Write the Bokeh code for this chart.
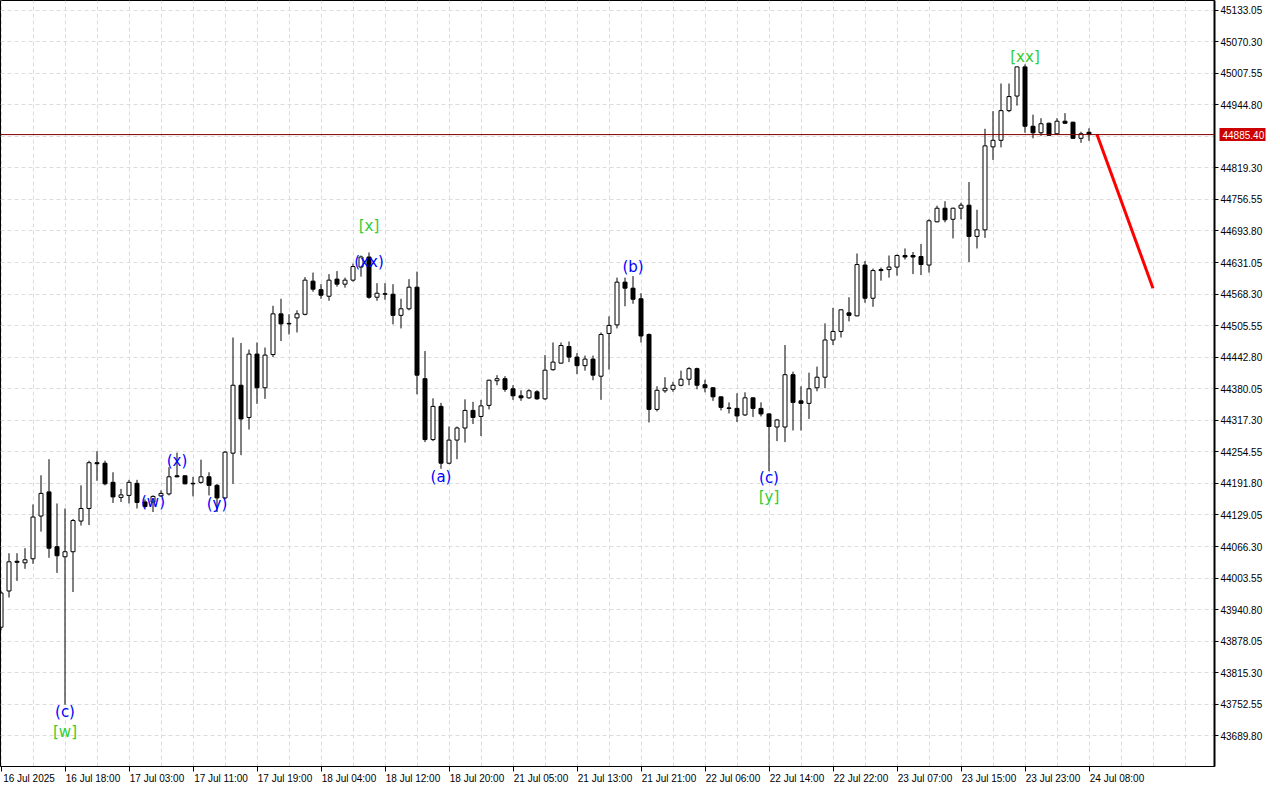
from bokeh.plotting import figure
from bokeh.models import (ColumnDataSource, FixedTicker, Range1d, Span, NumeralTickFormatter,
                          LinearAxis)
from bokeh.embed import file_html
from bokeh.resources import INLINE
from bokeh.core.properties import value

# ---------------- data (hourly candles, index-based x axis) ----------------
opens = [43906, 43978, 44037, 44034, 44042, 44127, 44175, 44066, 44046, 44056,
         44117, 44142, 44233, 44232, 44194, 44164, 44168, 44192, 44155, 44155,
         44167, 44171, 44207, 44207, 44192, 44194, 44205, 44188, 44163, 44252,
         44387, 44323, 44449, 44382, 44448, 44529, 44510, 44521, 44528, 44594,
         44577, 44564, 44598, 44588, 44596, 44622, 44642, 44562, 44569, 44568,
         44526, 44539, 44582, 44400, 44279, 44345, 44232, 44278, 44302, 44337,
         44325, 44347, 44396, 44400, 44380, 44366, 44362, 44374, 44360, 44418,
         44431, 44464, 44443, 44426, 44439, 44405, 44490, 44507, 44592, 44580,
         44559, 44488, 44339, 44376, 44379, 44387, 44399, 44420, 44388, 44382,
         44364, 44342, 44341, 44328, 44362, 44341, 44330, 44304, 44304, 44408,
         44356, 44351, 44382, 44403, 44477, 44494, 44531, 44525, 44626, 44560,
         44617, 44617, 44622, 44645, 44645, 44643, 44626, 44712, 44739, 44717,
         44739, 44745, 44683, 44696, 44861, 44874, 44933, 44962, 45020, 44902,
         44889, 44908, 44887, 44912, 44910, 44878, 44890]
highs = [43978, 44053, 44053, 44063, 44150, 44208, 44240, 44152, 44142, 44121,
         44188, 44237, 44256, 44237, 44214, 44181, 44199, 44199, 44160, 44168,
         44178, 44224, 44253, 44208, 44205, 44239, 44214, 44191, 44256, 44482,
         44471, 44458, 44472, 44462, 44545, 44559, 44528, 44536, 44602, 44611,
         44588, 44608, 44614, 44601, 44629, 44645, 44651, 44590, 44590, 44588,
         44559, 44598, 44613, 44455, 44361, 44352, 44305, 44305, 44359, 44354,
         44358, 44398, 44407, 44405, 44387, 44377, 44379, 44377, 44447, 44472,
         44472, 44474, 44451, 44446, 44446, 44492, 44524, 44601, 44601, 44604,
         44570, 44490, 44385, 44403, 44394, 44416, 44423, 44422, 44398, 44383,
         44365, 44353, 44371, 44373, 44363, 44353, 44331, 44320, 44467, 44414,
         44385, 44412, 44424, 44510, 44541, 44538, 44562, 44649, 44634, 44619,
         44621, 44645, 44647, 44659, 44652, 44668, 44717, 44744, 44753, 44740,
         44750, 44791, 44736, 44897, 44932, 44987, 44987, 45020, 45025, 44925,
         44918, 44909, 44918, 44928, 44911, 44891, 44898]
lows = [43900, 43965, 43998, 44022, 44032, 44096, 44044, 44014, 43752, 43976,
        44108, 44109, 44197, 44188, 44153, 44155, 44152, 44142, 44142, 44135,
        44165, 44168, 44204, 44190, 44166, 44191, 44168, 44135, 44161, 44191,
        44248, 44299, 44350, 44360, 44443, 44475, 44488, 44492, 44526, 44573,
        44559, 44555, 44583, 44581, 44593, 44603, 44559, 44555, 44557, 44508,
        44500, 44536, 44369, 44274, 44276, 44221, 44230, 44240, 44273, 44310,
        44286, 44339, 44387, 44374, 44358, 44356, 44360, 44358, 44358, 44416,
        44430, 44433, 44409, 44416, 44397, 44358, 44418, 44500, 44544, 44549,
        44472, 44313, 44335, 44372, 44374, 44385, 44387, 44379, 44373, 44356,
        44337, 44331, 44314, 44326, 44324, 44325, 44216, 44276, 44274, 44297,
        44297, 44320, 44375, 44381, 44467, 44482, 44514, 44524, 44551, 44543,
        44595, 44601, 44605, 44637, 44608, 44606, 44611, 44711, 44711, 44679,
        44717, 44632, 44659, 44680, 44835, 44860, 44930, 44943, 44889, 44878,
        44883, 44883, 44885, 44907, 44877, 44869, 44873]
closes = [43974, 44036, 44035, 44040, 44125, 44172, 44063, 44048, 44056, 44118,
          44142, 44233, 44231, 44191, 44165, 44169, 44194, 44154, 44146, 44166,
          44172, 44205, 44205, 44191, 44191, 44205, 44188, 44163, 44254, 44387,
          44320, 44449, 44382, 44447, 44529, 44509, 44509, 44529, 44596, 44578,
          44566, 44596, 44588, 44596, 44623, 44642, 44562, 44570, 44568, 44526,
          44539, 44582, 44407, 44279, 44345, 44232, 44278, 44302, 44337, 44323,
          44346, 44397, 44400, 44379, 44366, 44362, 44376, 44360, 44417, 44433,
          44466, 44443, 44426, 44439, 44407, 44488, 44506, 44592, 44580, 44558,
          44485, 44339, 44377, 44381, 44387, 44399, 44420, 44387, 44382, 44364,
          44343, 44341, 44326, 44362, 44341, 44330, 44305, 44318, 44408, 44353,
          44351, 44380, 44403, 44477, 44494, 44537, 44526, 44627, 44560, 44615,
          44615, 44622, 44645, 44642, 44642, 44627, 44714, 44739, 44716, 44739,
          44745, 44683, 44696, 44863, 44874, 44933, 44961, 45020, 44902, 44889,
          44907, 44884, 44912, 44908, 44878, 44887, 44885.4]

last_price = 44885.40
last_price_label = "44885.40"

# x-axis time labels (every 8 bars)
time_label_bars = [0, 8, 16, 24, 32, 40, 48, 56, 64, 72, 80, 88, 96, 104, 112, 120, 128, 136]
time_labels = ["16 Jul 2025", "16 Jul 18:00", "17 Jul 03:00", "17 Jul 11:00", "17 Jul 19:00",
               "18 Jul 04:00", "18 Jul 12:00", "18 Jul 20:00", "21 Jul 05:00", "21 Jul 13:00",
               "21 Jul 21:00", "22 Jul 06:00", "22 Jul 14:00", "22 Jul 22:00", "23 Jul 07:00",
               "23 Jul 15:00", "23 Jul 23:00", "24 Jul 08:00"]

# price-axis ticks
price_ticks = [43689.80, 43752.55, 43815.30, 43878.05, 43940.80, 44003.55, 44066.30, 44129.05,
               44191.80, 44254.55, 44317.30, 44380.05, 44442.80, 44505.55, 44568.30, 44631.05,
               44693.80, 44756.55, 44819.30, 44882.05, 44944.80, 45007.55, 45070.30, 45133.05]

# wave labels
wave_text = ["(c)", "[w]", "(w)", "(x)", "(y)", "[x]", "(xx)", "(a)", "(b)", "(c)", "[y]", "[xx]"]
wave_bar = [8, 8, 19, 22, 27, 46, 46, 55, 79, 96, 96, 128]
wave_price = [43737, 43698, 44155, 44237, 44151, 44704, 44632, 44204, 44622, 44202, 44165, 45040]
wave_color = ["#0000ff", "#32cd32", "#0000ff", "#0000ff", "#0000ff", "#32cd32", "#0000ff",
              "#0000ff", "#0000ff", "#0000ff", "#32cd32", "#32cd32"]

# forecast line
forecast_bar = [137, 144]
forecast_price = [44885.4, 44580]

# ---------------- figure ----------------
n = len(opens)
xs = list(range(n))
tops = [max(o, c) for o, c in zip(opens, closes)]
bots = [min(o, c) for o, c in zip(opens, closes)]
fills = ["white" if c > o else "black" for o, c in zip(opens, closes)]
src = ColumnDataSource(dict(x=xs, high=highs, low=lows, top=tops, bottom=bots, fill=fills))

FW = 1214
p = figure(frame_width=FW, frame_height=766, output_backend="svg", toolbar_location=None,
           x_range=Range1d(-0.0625, FW / 8 - 0.0625), y_range=Range1d(43629, 45152),
           y_axis_location="right", min_border_left=0, min_border_top=0,
           min_border_right=0, min_border_bottom=0)
p.background_fill_color = "white"
p.border_fill_color = "white"
p.outline_line_color = "black"
p.outline_line_width = 1

# grids
p.xgrid.ticker = FixedTicker(ticks=list(range(0, 153, 4)))
p.ygrid.ticker = FixedTicker(ticks=price_ticks)
for g in (p.xgrid, p.ygrid):
    g.grid_line_color = "#dcdcdc"
    g.grid_line_dash = "4 3"
    g.grid_line_width = 1

# x axis: labels left-aligned next to minor tick marks
centers = [b + 3.5 for b in time_label_bars]
p.xaxis.ticker = FixedTicker(ticks=centers, minor_ticks=time_label_bars)
p.xaxis.major_label_overrides = {c: t for c, t in zip(centers, time_labels)}
p.xaxis.major_tick_line_color = None
p.xaxis.major_tick_out = 4
p.xaxis.major_tick_in = 0
p.xaxis.minor_tick_line_color = "black"
p.xaxis.minor_tick_out = 5
p.xaxis.minor_tick_in = 0
p.xaxis.major_label_standoff = 1
p.xaxis.axis_line_color = "black"
p.xaxis.major_label_text_font = "Liberation Sans"
p.xaxis.major_label_text_font_size = "10px"
p.xaxis.major_label_text_color = "black"

# y axis (right)
p.yaxis.ticker = FixedTicker(ticks=[t for t in price_ticks if abs(t - last_price) > 10])
p.yaxis.formatter = NumeralTickFormatter(format="0.00")
p.yaxis.major_tick_out = 4
p.yaxis.major_tick_in = 0
p.yaxis.minor_tick_line_color = None
p.yaxis.axis_line_width = 2
p.yaxis.axis_line_color = "black"
p.yaxis.major_label_standoff = 2
p.yaxis.major_label_text_font = "Liberation Sans"
p.yaxis.major_label_text_font_size = "10px"
p.yaxis.major_label_text_color = "black"

# current-price tag: an outer axis whose single thick inward tick forms the red box,
# with its white label pulled back over the price-label column
tag_axis = LinearAxis(ticker=FixedTicker(ticks=[last_price]),
                      major_label_overrides={last_price: last_price_label},
                      axis_line_color=None, minor_tick_line_color=None,
                      major_tick_in=46, major_tick_out=0,
                      major_tick_line_color="#cc0000", major_tick_line_width=13,
                      major_tick_line_cap="butt",
                      major_label_standoff=-43,
                      major_label_text_color="white",
                      major_label_text_font="Liberation Sans",
                      major_label_text_font_size="10px")
p.add_layout(tag_axis, "right")

# candles
p.segment(x0="x", y0="low", x1="x", y1="high", source=src, line_color="black", line_width=1)
p.vbar(x="x", width=0.5, top="top", bottom="bottom", source=src,
       fill_color="fill", line_color="black", line_width=1)

# current price line
p.add_layout(Span(location=last_price, dimension="width", line_color="#800000", line_width=1))

# forecast
p.line(forecast_bar, forecast_price, line_color="#ff0000", line_width=3)

# wave labels
p.text(x=wave_bar, y=wave_price, text=wave_text, text_color=wave_color,
       text_font=value("DejaVu Sans"), text_font_size="15px",
       text_align="center", text_baseline="middle")

open("out.html", "w").write(file_html(p, INLINE))
